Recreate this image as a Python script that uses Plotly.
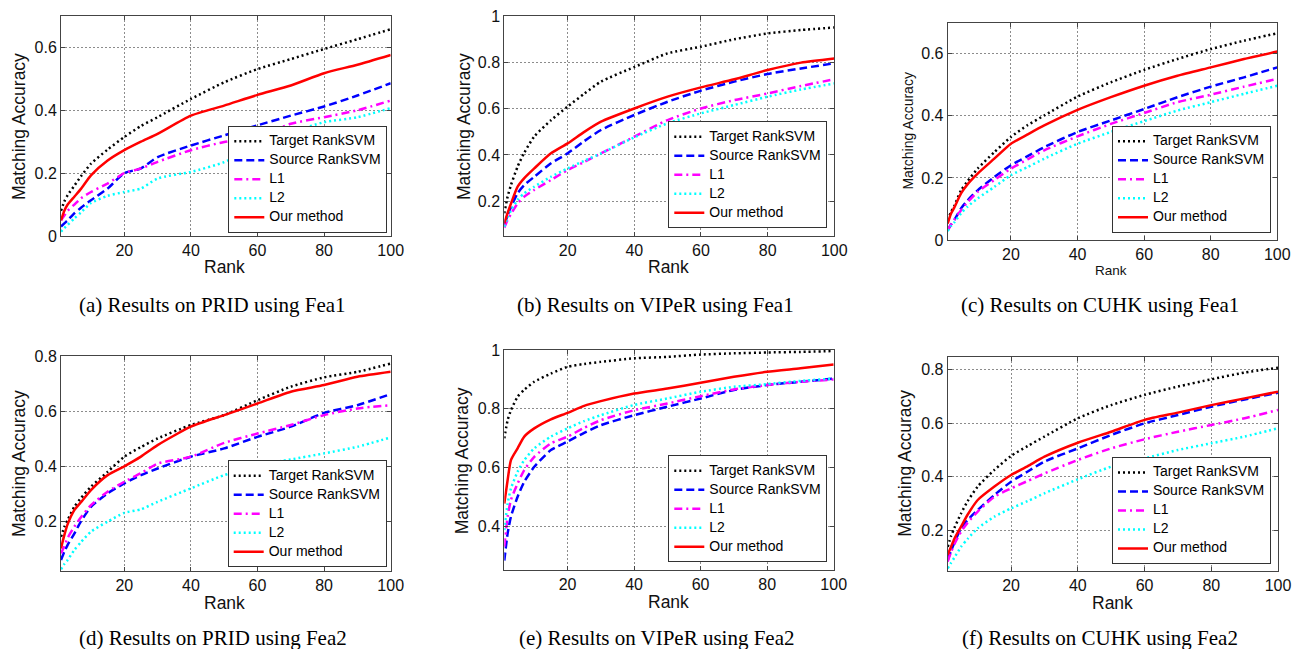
import plotly.graph_objects as go

W, H = 1299, 649

RANKS = [1, 2, 3, 5, 7, 10, 15, 20, 25, 30, 40, 50, 60, 70, 80, 90, 100]
METHODS = ["Target RankSVM", "Source RankSVM", "L1", "L2", "Our method"]
X_TICKS = [20, 40, 60, 80, 100]

# (a) PRID, Fea1
A_TARGET = [0.08, 0.11, 0.13, 0.16, 0.19, 0.23, 0.275, 0.315, 0.35, 0.378, 0.436, 0.489, 0.531, 0.563, 0.595, 0.626, 0.658]
A_SOURCE = [0.03, 0.04, 0.05, 0.072, 0.09, 0.114, 0.151, 0.2, 0.215, 0.251, 0.288, 0.32, 0.352, 0.383, 0.412, 0.447, 0.486]
A_L1 = [0.05, 0.065, 0.08, 0.1, 0.12, 0.14, 0.167, 0.2, 0.215, 0.236, 0.273, 0.299, 0.315, 0.357, 0.378, 0.4, 0.431]
A_L2 = [0.014, 0.025, 0.035, 0.056, 0.075, 0.105, 0.128, 0.14, 0.151, 0.183, 0.204, 0.235, 0.29, 0.33, 0.362, 0.378, 0.407]
A_OURS = [0.05, 0.08, 0.1, 0.125, 0.15, 0.193, 0.24, 0.273, 0.3, 0.325, 0.383, 0.415, 0.449, 0.479, 0.518, 0.545, 0.576]

# (b) VIPeR, Fea1
B_TARGET = [0.148, 0.22, 0.27, 0.35, 0.41, 0.48, 0.55, 0.609, 0.665, 0.717, 0.78, 0.839, 0.868, 0.9, 0.925, 0.94, 0.951]
B_SOURCE = [0.098, 0.14, 0.175, 0.235, 0.27, 0.306, 0.364, 0.407, 0.46, 0.508, 0.573, 0.63, 0.678, 0.717, 0.75, 0.774, 0.796]
B_L1 = [0.086, 0.12, 0.145, 0.191, 0.22, 0.249, 0.292, 0.335, 0.37, 0.407, 0.479, 0.551, 0.601, 0.637, 0.666, 0.698, 0.727]
B_L2 = [0.09, 0.13, 0.16, 0.206, 0.235, 0.263, 0.306, 0.342, 0.375, 0.407, 0.476, 0.537, 0.58, 0.616, 0.652, 0.683, 0.709]
B_OURS = [0.105, 0.15, 0.19, 0.263, 0.3, 0.342, 0.407, 0.45, 0.5, 0.544, 0.601, 0.652, 0.692, 0.727, 0.767, 0.799, 0.817]

# (c) CUHK, Fea1
C_TARGET = [0.064, 0.09, 0.11, 0.16, 0.19, 0.23, 0.283, 0.332, 0.37, 0.401, 0.462, 0.508, 0.548, 0.583, 0.615, 0.642, 0.666]
C_SOURCE = [0.032, 0.05, 0.065, 0.102, 0.128, 0.16, 0.203, 0.241, 0.27, 0.299, 0.348, 0.385, 0.422, 0.46, 0.494, 0.524, 0.556]
C_L1 = [0.032, 0.05, 0.065, 0.096, 0.122, 0.155, 0.193, 0.23, 0.26, 0.289, 0.334, 0.374, 0.409, 0.444, 0.468, 0.494, 0.519]
C_L2 = [0.029, 0.045, 0.057, 0.086, 0.108, 0.134, 0.171, 0.209, 0.235, 0.262, 0.31, 0.348, 0.383, 0.417, 0.444, 0.471, 0.497]
C_OURS = [0.053, 0.085, 0.105, 0.15, 0.18, 0.214, 0.262, 0.31, 0.34, 0.369, 0.419, 0.46, 0.497, 0.529, 0.556, 0.583, 0.607]

# (d) PRID, Fea2
D_TARGET = [0.144, 0.18, 0.205, 0.253, 0.285, 0.326, 0.38, 0.435, 0.47, 0.501, 0.55, 0.586, 0.64, 0.689, 0.723, 0.743, 0.773]
D_SOURCE = [0.06, 0.09, 0.115, 0.156, 0.2, 0.253, 0.302, 0.338, 0.368, 0.392, 0.435, 0.465, 0.507, 0.544, 0.594, 0.622, 0.662]
D_L1 = [0.084, 0.11, 0.14, 0.181, 0.215, 0.259, 0.308, 0.344, 0.375, 0.41, 0.435, 0.485, 0.519, 0.55, 0.586, 0.61, 0.622]
D_L2 = [0.026, 0.045, 0.06, 0.096, 0.125, 0.163, 0.199, 0.231, 0.244, 0.271, 0.32, 0.368, 0.404, 0.425, 0.447, 0.471, 0.505]
D_OURS = [0.102, 0.15, 0.19, 0.241, 0.27, 0.314, 0.368, 0.4, 0.435, 0.477, 0.544, 0.586, 0.628, 0.671, 0.695, 0.725, 0.743]

# (e) VIPeR, Fea2
E_TARGET = [0.699, 0.761, 0.795, 0.841, 0.865, 0.892, 0.92, 0.943, 0.953, 0.96, 0.972, 0.977, 0.985, 0.989, 0.992, 0.994, 0.997]
E_SOURCE = [0.282, 0.375, 0.432, 0.5, 0.551, 0.602, 0.659, 0.688, 0.718, 0.744, 0.778, 0.807, 0.835, 0.864, 0.881, 0.892, 0.903]
E_L1 = [0.33, 0.432, 0.489, 0.545, 0.591, 0.636, 0.682, 0.705, 0.735, 0.761, 0.795, 0.818, 0.843, 0.866, 0.881, 0.892, 0.9]
E_L2 = [0.386, 0.477, 0.528, 0.585, 0.625, 0.665, 0.705, 0.733, 0.758, 0.778, 0.813, 0.835, 0.858, 0.875, 0.884, 0.895, 0.903]
E_OURS = [0.477, 0.557, 0.625, 0.665, 0.705, 0.733, 0.764, 0.786, 0.81, 0.826, 0.852, 0.869, 0.889, 0.909, 0.926, 0.938, 0.951]

# (f) CUHK, Fea2
F_TARGET = [0.14, 0.18, 0.21, 0.264, 0.31, 0.364, 0.426, 0.478, 0.515, 0.55, 0.618, 0.667, 0.705, 0.736, 0.763, 0.788, 0.806]
F_SOURCE = [0.091, 0.125, 0.155, 0.209, 0.24, 0.277, 0.333, 0.382, 0.42, 0.457, 0.506, 0.556, 0.599, 0.63, 0.661, 0.688, 0.713]
F_L1 = [0.085, 0.12, 0.15, 0.196, 0.23, 0.271, 0.326, 0.357, 0.385, 0.413, 0.463, 0.506, 0.54, 0.568, 0.593, 0.618, 0.649]
F_L2 = [0.06, 0.08, 0.1, 0.14, 0.17, 0.209, 0.252, 0.283, 0.31, 0.339, 0.391, 0.438, 0.469, 0.5, 0.525, 0.55, 0.581]
F_OURS = [0.11, 0.14, 0.17, 0.215, 0.26, 0.314, 0.364, 0.407, 0.44, 0.475, 0.527, 0.568, 0.612, 0.639, 0.667, 0.692, 0.717]

CAPTIONS = [
    "(a) Results on PRID using Fea1",
    "(b) Results on VIPeR using Fea1",
    "(c) Results on CUHK using Fea1",
    "(d) Results on PRID using Fea2",
    "(e) Results on VIPeR using Fea2",
    "(f) Results on CUHK using Fea2",
]
X_TITLE = "Rank"
Y_TITLE = "Matching Accuracy"

SERIES = [
    [A_TARGET, A_SOURCE, A_L1, A_L2, A_OURS],
    [B_TARGET, B_SOURCE, B_L1, B_L2, B_OURS],
    [C_TARGET, C_SOURCE, C_L1, C_L2, C_OURS],
    [D_TARGET, D_SOURCE, D_L1, D_L2, D_OURS],
    [E_TARGET, E_SOURCE, E_L1, E_L2, E_OURS],
    [F_TARGET, F_SOURCE, F_L1, F_L2, F_OURS],
]
Y_RANGES = [[0, 0.7], [0.05, 1.0005], [0, 0.7], [0.02, 0.8005], [0.25, 1.0005], [0.05, 0.847]]

# ---- layout (pixels) ----
# plot box: left, right, top, bottom
BOXES = [
    (61, 390.7, 16, 236),
    (504.3, 834.3, 16, 236),
    (947.7, 1277.3, 22.7, 240),
    (61, 390.7, 356, 571),
    (504.3, 833.7, 350, 570),
    (947.7, 1278, 356.7, 571),
]
# legend: right edge, bottom edge
LEGEND_POS = [(387.3, 232.7), (827.3, 228.3), (1271, 232.7), (386.7, 567.3), (827.3, 562.3), (1271, 564)]
YTITLE_POS = [(18.3, 126.7), (463.3, 126.7), (908.3, 130.3), (18.3, 463.8), (462.3, 461), (905, 463.8)]
XTITLE_POS = [(224.5, 266.7), (668.8, 266.7), (1111, 270), (224.5, 602.7), (668, 601.7), (1112, 602.7)]
TITLE_SIZES = [(17.5, 17.5), (17.5, 17.5), (14, 13.5), (17.5, 17.5), (17.5, 17.5), (17.5, 17.5)]
CAPTION_POS = [(212, 305), (655.8, 305), (1100, 305), (213, 638), (656.7, 638), (1100, 638)]

STYLES = [
    dict(color="#000000", dash="2px,3px"),
    dict(color="#0000FF", dash="8px,4px"),
    dict(color="#FF00FF", dash="8px,4px,2px,4px"),
    dict(color="#00FFFF", dash="2px,3px"),
    dict(color="#FF0000", dash="solid"),
]

SANS = "Liberation Sans, Arial, Helvetica, sans-serif"
SERIF = "Liberation Serif, Times New Roman, serif"


def px_x(v):
    return v / W


def px_y(v):
    return 1 - v / H


fig = go.Figure()
layout = dict(
    width=W, height=H,
    margin=dict(l=0, r=0, t=0, b=0, pad=0, autoexpand=False),
    paper_bgcolor="white", plot_bgcolor="white",
    showlegend=True,
    annotations=[],
)

for i in range(6):
    sfx = "" if i == 0 else str(i + 1)
    leg = "legend" + sfx
    for m, name in enumerate(METHODS):
        st = STYLES[m]
        fig.add_trace(go.Scatter(
            x=RANKS, y=SERIES[i][m], mode="lines",
            name='<span style="font-size:14px">' + name + "</span>",
            line=dict(color=st["color"], width=2.5, dash=st["dash"],
                      shape="spline", smoothing=0.6),
            xaxis="x" + sfx, yaxis="y" + sfx, legend=leg,
            hoverinfo="skip",
        ))
    l, r, t, b = BOXES[i]
    axis_common = dict(
        showline=True, linecolor="#444444", linewidth=1, mirror="ticks",
        ticks="inside", ticklen=4, tickcolor="#444444",
        showgrid=True, gridcolor="#8c8c8c", gridwidth=1, griddash="2px,2px",
        zeroline=False, tickfont=dict(family=SANS, size=16, color="#111111"),
        automargin=False,
    )
    layout["xaxis" + sfx] = dict(
        domain=[px_x(l), px_x(r)], range=[1, 100], tickvals=X_TICKS,
        anchor="y" + sfx, **axis_common,
    )
    layout["yaxis" + sfx] = dict(
        domain=[px_y(b), px_y(t)], range=Y_RANGES[i], tick0=0, dtick=0.2,
        anchor="x" + sfx, **axis_common,
    )
    lx, ly = LEGEND_POS[i]
    layout[leg] = dict(
        x=px_x(lx), y=px_y(ly), xanchor="right", yanchor="bottom",
        xref="paper", yref="paper",
        bgcolor="white", bordercolor="#333333", borderwidth=1,
        font=dict(family=SANS, size=10, color="#000000"),
        tracegroupgap=0, itemwidth=30, traceorder="normal",
    )
    yx, yy = YTITLE_POS[i]
    xx, xy = XTITLE_POS[i]
    ys, xs = TITLE_SIZES[i]
    layout["annotations"].append(dict(
        text=Y_TITLE, x=px_x(yx), y=px_y(yy), xref="paper", yref="paper",
        xanchor="center", yanchor="middle", textangle=-90, showarrow=False,
        font=dict(family=SANS, size=ys, color="#111111"),
    ))
    layout["annotations"].append(dict(
        text=X_TITLE, x=px_x(xx), y=px_y(xy), xref="paper", yref="paper",
        xanchor="center", yanchor="middle", showarrow=False,
        font=dict(family=SANS, size=xs, color="#111111"),
    ))
    cx, cy = CAPTION_POS[i]
    layout["annotations"].append(dict(
        text=CAPTIONS[i], x=px_x(cx), y=px_y(cy), xref="paper", yref="paper",
        xanchor="center", yanchor="middle", showarrow=False,
        font=dict(family=SERIF, size=21, color="#000000"),
    ))

fig.update_layout(**layout)
fig.write_html(
    "out.html",
    config={"displayModeBar": False},
    post_script="document.body.style.margin='0px';document.body.style.padding='0px';",
)
